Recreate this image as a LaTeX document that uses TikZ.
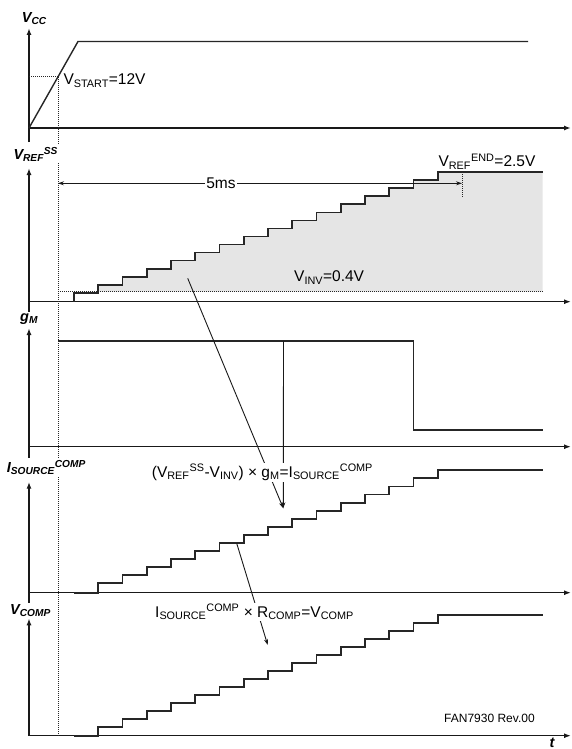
\documentclass[tikz,border=0pt]{standalone}
\usepackage{fontspec}
\setmainfont{Liberation Sans}
\usetikzlibrary{arrows.meta}
\newcommand\lsub[1]{\textsubscript{#1}}
\newcommand\lsup[1]{\textsuperscript{#1}}
\begin{document}
\begin{tikzpicture}[x=1pt,y=-1pt,
  axis/.style={line width=1.4pt, draw=black!90, -{Latex[length=7pt,width=5pt]}},
  vaxis/.style={line width=1.4pt, draw=black!90, -{Latex[length=7pt,width=5pt]}},
  stair/.style={line width=1.8pt, draw=black!85},
  trace/.style={line width=1.4pt, draw=black!85},
  dots/.style={dash pattern=on 1pt off 1pt, line width=1pt, draw=black!85},
  ann/.style={font=\fontsize{15.5}{18}\selectfont, inner sep=1.5pt},
  annw/.style={ann, fill=white},
  axlab/.style={font=\fontsize{14.5}{17}\selectfont\bfseries\itshape, fill=white, inner sep=1.5pt},
  pointer/.style={line width=0.9pt, draw=black!90, -{Stealth[length=6pt,width=4pt]}},
  dim/.style={line width=0.9pt, draw=black!90, {Stealth[length=6pt,width=4pt]}-{Stealth[length=6pt,width=4pt]}}
]
\useasboundingbox (0,0) rectangle (571,749);
\fill[white] (0,0) rectangle (571,749);

% ---------- grey area in V_REF panel ----------
\fill[black!10] (74,292.7) \foreach \k in {1,...,15}{ -- ++(24.25,0) -- ++(0,-8.03)} -- (542.7,172.25) -- (542.7,291.7) -- (74,291.7) -- cycle;

% ---------- axes ----------
\coordinate (o1) at (29,128);
\coordinate (o2) at (29,301.7);
\coordinate (o3) at (29,446.7);
\coordinate (o4) at (29,592.7);
\coordinate (o5) at (29,735.7);
\coordinate (e1) at (571,128);
\coordinate (e2) at (571,301.7);
\coordinate (e3) at (571,446.7);
\coordinate (e4) at (571,592.7);
\coordinate (e5) at (571,735.7);
\draw[axis] (o1) -- (e1);
\draw[axis] (o2) -- (e2);
\draw[axis] (o3) -- (e3);
\draw[axis] (o4) -- (e4);
\draw[axis] (o5) -- (e5);
\coordinate (t1) at (29,28);
\coordinate (t2) at (29,168);
\coordinate (t3) at (29,328);
\coordinate (t4) at (29,481.7);
\coordinate (t5) at (29,618.3);
\draw[vaxis] (29,142) -- (t1);
\draw[vaxis] (29,314) -- (t2);
\draw[vaxis] (29,458) -- (t3);
\draw[vaxis] (29,604) -- (t4);
\draw[vaxis] (o5) -- (t5);

% ---------- V_CC ----------
\coordinate (r1) at (78,41.5);
\coordinate (r2) at (528,41.5);
\coordinate (vs) at (58,77);
\draw[trace] (o1) -- (r1) -- (r2);
\draw[dots] (29,77) -- (vs);
\draw[dots] (vs) -- (58,735.7);
\node[ann, anchor=base west] (vstart) at (61.8,84.7) {V\lsub{START}=12V};

% ---------- V_REF^SS ----------
\draw[stair] (74,301.7) -- ++(0,-9) \foreach \k in {1,...,15}{ -- ++(24.25,0) -- ++(0,-8.03)} -- (542.7,172.25);
\draw[dots] (58,291.7) -- (542.7,291.7);
\coordinate (dL) at (58,183.3);
\coordinate (dR) at (462,183.3);
\draw[dots] (462,172) -- (462,197);
\draw[dim] (dL) -- (dR);
\node[annw, inner sep=1pt] (fivems) at (221,183.3) {5ms};
\node[ann, anchor=base west] (vinv) at (292.5,281.7) {V\lsub{INV}=0.4V};
\node[ann, anchor=base west] (vend) at (436.8,166.7) {V\lsub{REF}\lsup{END}=2.5V};

% ---------- g_M ----------
\draw[trace] (58,341) -- (413.3,341) -- (413.3,430) -- (542.7,430);

% ---------- I_SOURCE^COMP ----------
\draw[stair] (74,592.7) -- ++(24.25,0) -- ++(0,-9.4) \foreach \k in {2,...,15}{ -- ++(24.25,0) -- ++(0,-8.07)} -- ++(104.95,0);

% ---------- V_COMP ----------
\draw[stair] (74,735.7) -- ++(24.25,0) -- ++(0,-9) \foreach \k in {2,...,15}{ -- ++(24.25,0) -- ++(0,-7.98)} -- ++(104.95,0);

% ---------- pointers ----------
\coordinate (a1) at (187.7,278.3);
\coordinate (a2) at (283.5,341);
\coordinate (tipA) at (283.3,508.3);
\coordinate (b1) at (236.7,543.3);
\coordinate (tipB) at (267.7,645);
\draw[pointer] (a1) -- (tipA);
\draw[pointer] (a2) -- (tipA);
\draw[pointer] (b1) -- (tipB);

\node[annw, anchor=base west] (eqA) at (150.2,477) {(V\lsub{REF}\lsup{SS}-V\lsub{INV}) × g\lsub{M}=I\lsub{SOURCE}\lsup{COMP}};
\node[annw, anchor=base west] (eqB) at (153.5,617) {I\lsub{SOURCE}\lsup{COMP} × R\lsub{COMP}=V\lsub{COMP}};

% ---------- axis labels ----------
\node[axlab, anchor=base west] (lvcc) at (20.2,22.7) {V\lsub{CC}};
\node[axlab, anchor=base west] (lvref) at (11.8,159.3) {V\lsub{REF}\lsup{SS}};
\node[axlab, anchor=base west] (lgm) at (18.5,321.7) {g\lsub{M}};
\node[axlab, anchor=base west] (lis) at (5.2,472.3) {I\lsub{SOURCE}\lsup{COMP}};
\node[axlab, anchor=base west] (lvc) at (8.5,614) {V\lsub{COMP}};
\node[axlab, anchor=base west, fill=none] (lt) at (548,747.5) {t};
\node[font=\fontsize{12}{14}\selectfont, anchor=west, inner sep=0pt] (rev) at (444,718) {FAN7930 Rev.00};
\end{tikzpicture}
\end{document}
